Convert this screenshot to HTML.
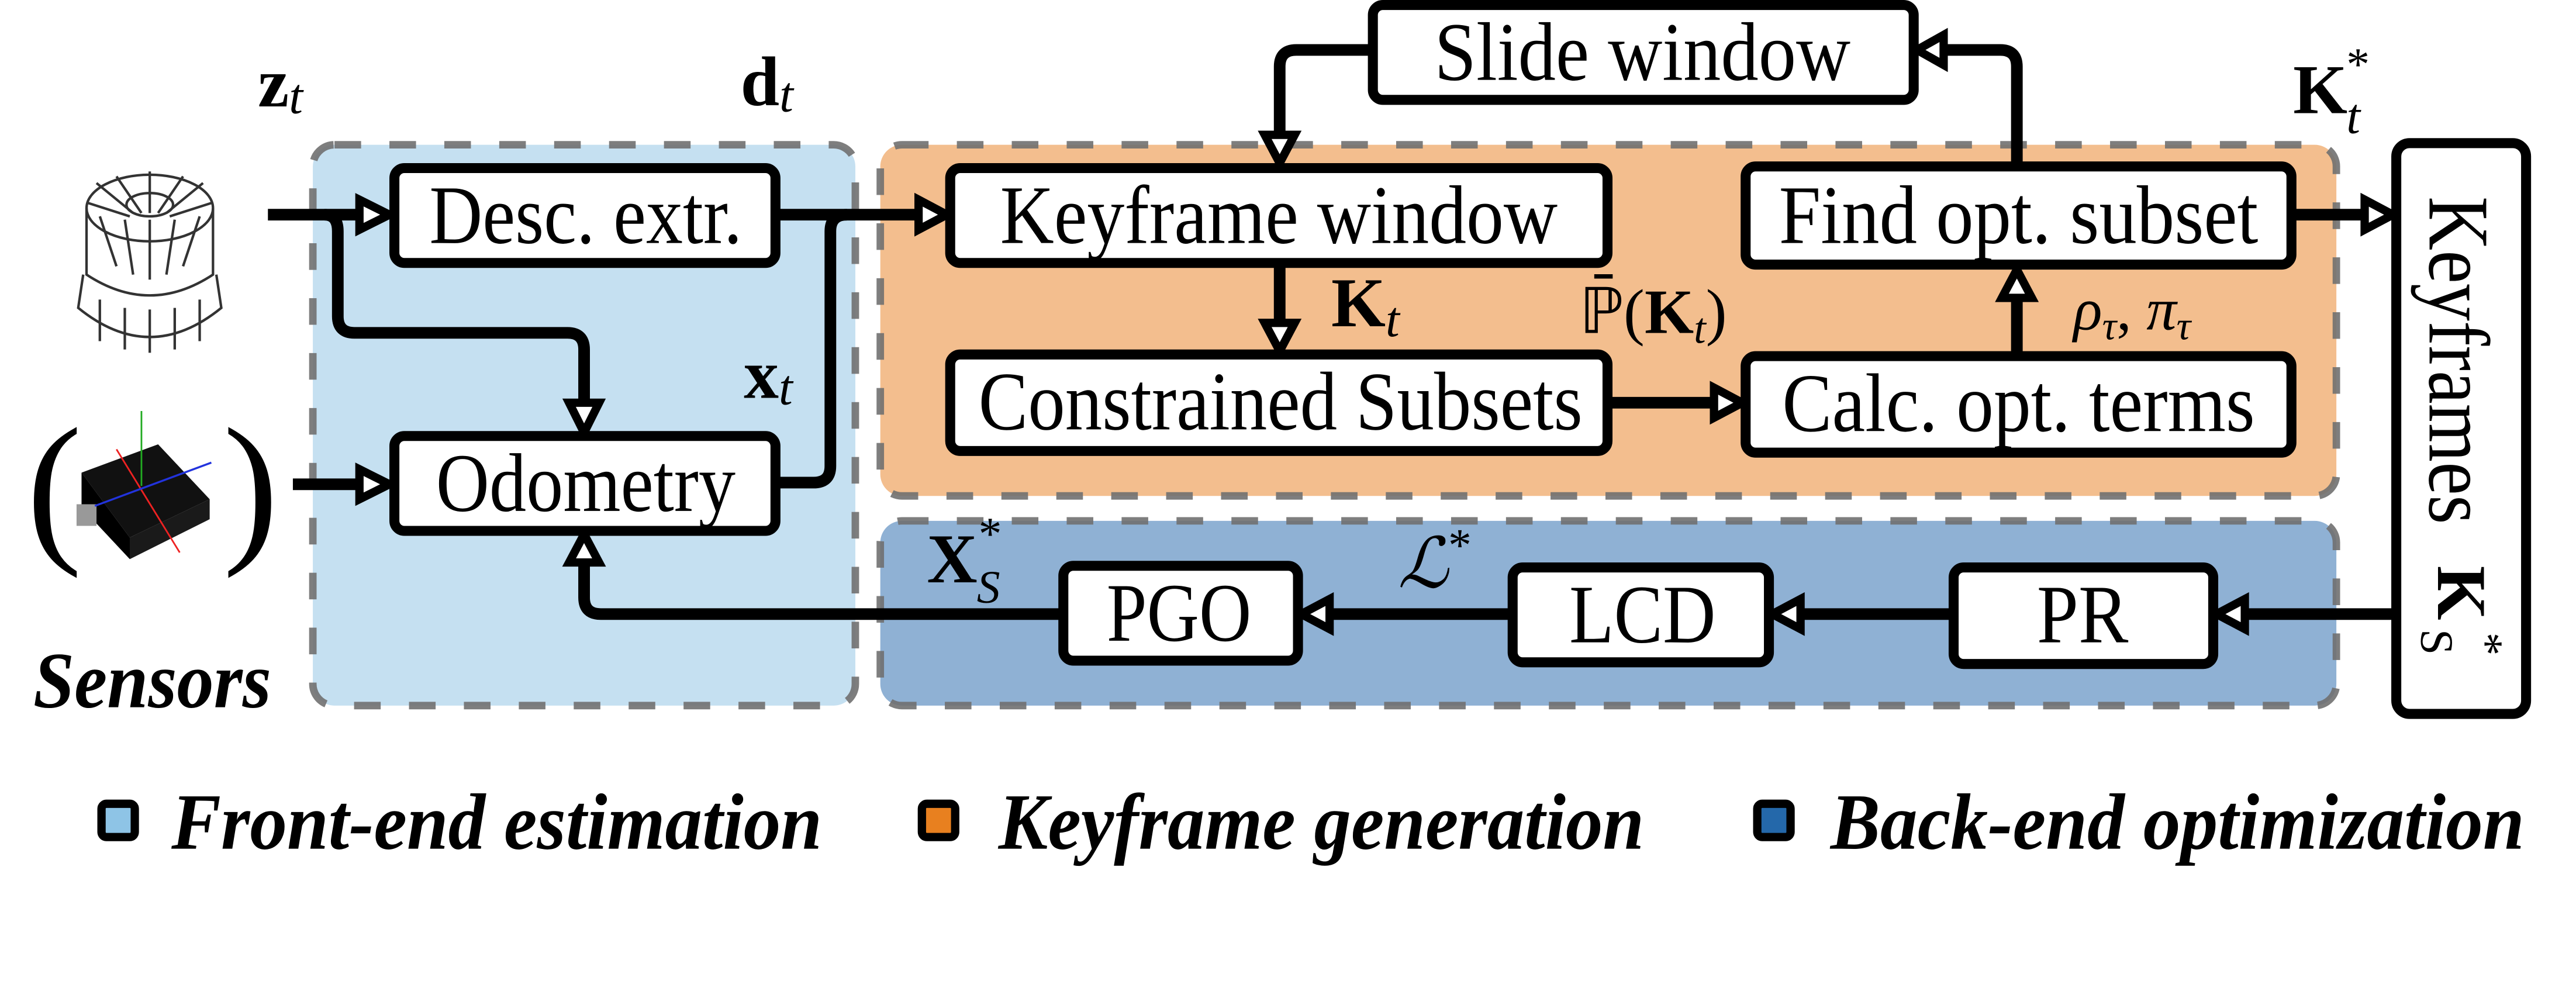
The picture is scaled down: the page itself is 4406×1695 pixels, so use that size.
<!DOCTYPE html>
<html><head><meta charset="utf-8"><style>
html,body{margin:0;padding:0;background:#fff}
svg{display:block}
text{font-family:"Liberation Serif",serif}
</style></head><body>
<svg width="4406" height="1695" viewBox="0 0 1548 595.5" xmlns="http://www.w3.org/2000/svg">
<!-- regions -->
<g stroke="#707070" stroke-width="4.5" stroke-dasharray="16,17" stroke-opacity="0.9">
<rect x="188" y="87" width="326" height="337" rx="13" fill="#c5e0f1"/>
<rect x="529" y="87" width="875" height="211" rx="13" fill="#f3be8e"/>
<rect x="529" y="313" width="875" height="111" rx="13" fill="#8fb1d4"/>
</g>
<!-- lines -->
<g fill="none" stroke="#000" stroke-width="7" stroke-linejoin="round">
<path d="M161 129 H225"/>
<path d="M195 129 Q203 129 203 139 V190 Q203 200 213 200 H341 Q351 200 351 210 V252"/>
<path d="M176 291 H225"/>
<path d="M466 129 H560"/>
<path d="M466 290 H489 Q499 290 499 280 V139 Q499 129 509 129"/>
<path d="M1212 99 V40 Q1212 30 1202 30 H1162"/>
<path d="M825 30 H779 Q769 30 769 40 V88"/>
<path d="M769 158 V201"/>
<path d="M951 242 H1037"/>
<path d="M1212 214 V172"/>
<path d="M1377 129 H1428"/>
<path d="M1440 369 H1342"/>
<path d="M1174 369 H1075"/>
<path d="M909 369 H792"/>
<path d="M639 369 H361 Q351 369 351 359 V331"/>
</g>
<!-- arrowheads (hollow) -->
<g fill="#fff" stroke="#000" stroke-width="5" stroke-linejoin="miter">
<path d="M216 120 L234 129 L216 138 Z"/>
<path d="M342 242 L351 260 L360 242 Z"/>
<path d="M216 282 L234 291 L216 300 Z"/>
<path d="M552 120 L569 129 L552 138 Z"/>
<path d="M1168 21 L1152 30 L1168 39 Z"/>
<path d="M760 81 L769 98 L778 81 Z"/>
<path d="M760 194 L769 211 L778 194 Z"/>
<path d="M1030 233 L1047 242 L1030 251 Z"/>
<path d="M1203 179 L1212 162 L1221 179 Z"/>
<path d="M1421 120 L1438 129 L1421 138 Z"/>
<path d="M1349 360 L1332 369 L1349 378 Z"/>
<path d="M1082 360 L1065 369 L1082 378 Z"/>
<path d="M799 360 L782 369 L799 378 Z"/>
<path d="M342 338 L351 321 L360 338 Z"/>
</g>
<!-- boxes -->
<g fill="#fff" stroke="#000" stroke-width="6">
<rect x="237" y="101" width="229" height="57" rx="6"/>
<rect x="237" y="262" width="229" height="57" rx="6"/>
<rect x="825" y="3" width="325" height="57" rx="6"/>
<rect x="571" y="101" width="395" height="57" rx="6"/>
<rect x="1049" y="100" width="328" height="59" rx="6"/>
<rect x="571" y="213" width="395" height="58" rx="6"/>
<rect x="1049" y="214" width="328" height="58" rx="6"/>
<rect x="639" y="340" width="141" height="57" rx="6"/>
<rect x="909" y="341" width="154" height="57" rx="6"/>
<rect x="1174" y="341" width="156" height="58" rx="6"/>
<rect x="1440" y="86" width="78" height="343" rx="8"/>
</g>
<g font-size="50" fill="#000">
<text x="258" y="146" textLength="188" lengthAdjust="spacingAndGlyphs">Desc. extr.</text>
<text x="262" y="307" textLength="180" lengthAdjust="spacingAndGlyphs">Odometry</text>
<text x="862" y="48" textLength="250" lengthAdjust="spacingAndGlyphs">Slide window</text>
<text x="601" y="146" textLength="335" lengthAdjust="spacingAndGlyphs">Keyframe window</text>
<text x="1069" y="146" textLength="288" lengthAdjust="spacingAndGlyphs">Find opt. subset</text>
<text x="588" y="258" textLength="363" lengthAdjust="spacingAndGlyphs">Constrained Subsets</text>
<text x="1071" y="259" textLength="284" lengthAdjust="spacingAndGlyphs">Calc. opt. terms</text>
<text x="665" y="385" textLength="87" lengthAdjust="spacingAndGlyphs">PGO</text>
<text x="943" y="386" textLength="88" lengthAdjust="spacingAndGlyphs">LCD</text>
<text x="1224" y="386" textLength="55" lengthAdjust="spacingAndGlyphs">PR</text>
<text transform="translate(1460,118) rotate(90)" x="0" y="0" font-size="52" textLength="197" lengthAdjust="spacingAndGlyphs">Keyframes</text>
</g>
<g transform="translate(1465,340) rotate(90)" fill="#000">
<text x="0" y="0" font-size="42" font-weight="bold">K</text>
<text x="38" y="10" font-size="28">S</text>
<text x="40" y="-20" font-size="28">*</text>
</g>
<!-- labels -->
<g font-size="42" fill="#000">
<text x="155" y="64"><tspan font-weight="bold">z</tspan><tspan font-style="italic" font-size="30" dy="4">t</tspan></text>
<text x="445" y="63"><tspan font-weight="bold">d</tspan><tspan font-style="italic" font-size="30" dy="4">t</tspan></text>
<text x="447" y="239"><tspan font-weight="bold">x</tspan><tspan font-style="italic" font-size="30" dy="4">t</tspan></text>
<text x="800" y="196"><tspan font-weight="bold">K</tspan><tspan font-style="italic" font-size="30" dy="6">t</tspan></text>
<text x="1378" y="68" font-weight="bold">K</text>
<text x="1410" y="48" font-size="28">*</text>
<text x="1410" y="80" font-size="30" font-style="italic">t</text>
<text x="949" y="200" font-size="38">ℙ̄(<tspan font-weight="bold">K</tspan><tspan font-style="italic" font-size="26" dy="6">t</tspan><tspan dy="-6">)</tspan></text>
<text x="1246" y="198" font-style="italic" font-size="36">ρ<tspan font-size="24" dy="6">τ</tspan><tspan dy="-6" font-style="normal">, </tspan>π<tspan font-size="24" dy="6">τ</tspan></text>
<text x="557" y="350" font-weight="bold">X</text>
<text x="588" y="330" font-size="28">*</text>
<text x="587" y="362" font-size="28" font-style="italic">S</text>
<text x="840" y="353" font-style="italic">ℒ<tspan font-size="28" font-style="normal" dy="-16">*</tspan></text>
<text x="20" y="425" font-size="48" font-weight="bold" font-style="italic" textLength="143" lengthAdjust="spacingAndGlyphs">Sensors</text>
</g>
<!-- lidar -->
<g fill="none" stroke="#333" stroke-width="1.5">
<ellipse cx="90" cy="125" rx="38" ry="20"/>
<ellipse cx="90" cy="123" rx="14" ry="7"/>
<path d="M52 125 V165 Q90 190 128 165 V125"/>
<path d="M50 165 L47 185 Q90 220 133 185 L130 165"/>
<path d="M58 110 L80 128 M70 106 L85 128 M90 103 V128 M110 106 L95 128 M122 110 L100 128 M53 122 L78 130 M127 122 L102 130 M60 130 L70 160 M75 132 L80 165 M90 132 V168 M105 132 L100 165 M120 130 L110 160 M60 180 V205 M75 185 V210 M90 186 V212 M105 185 V210 M120 180 V205"/>
</g>
<!-- IMU -->
<text x="16" y="326" font-size="100" fill="#000">(</text>
<text x="134" y="326" font-size="100" fill="#000">)</text>
<g>
<path d="M49 284 L95 267 L126 300 L78 323 Z" fill="#111"/>
<path d="M49 284 L49 305 L78 336 L78 323 Z" fill="#000"/>
<path d="M78 323 L126 300 L126 312 L78 336 Z" fill="#1a1a1a"/>
<rect x="46" y="303" width="12" height="13" fill="#999"/>
<line x1="85" y1="247" x2="85" y2="292" stroke="#2a2" stroke-width="1"/>
<line x1="70" y1="270" x2="108" y2="332" stroke="#e22" stroke-width="1"/>
<line x1="57" y1="304" x2="127" y2="278" stroke="#23d" stroke-width="1.2"/>
</g>
<!-- legend -->
<g stroke="#000" stroke-width="5">
<rect x="61" y="483" width="20" height="20" rx="3" fill="#8ec4e6"/>
<rect x="554" y="483" width="20" height="20" rx="3" fill="#e8801f"/>
<rect x="1056" y="483" width="20" height="20" rx="3" fill="#2468aa"/>
</g>
<g font-size="48" font-weight="bold" font-style="italic" fill="#000">
<text x="103" y="510" textLength="391" lengthAdjust="spacingAndGlyphs">Front-end estimation</text>
<text x="600" y="510" textLength="388" lengthAdjust="spacingAndGlyphs">Keyframe generation</text>
<text x="1100" y="510" textLength="417" lengthAdjust="spacingAndGlyphs">Back-end optimization</text>
</g>
</svg>
</body></html>
